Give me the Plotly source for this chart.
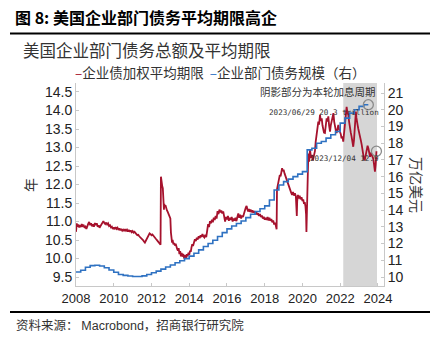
import plotly.graph_objects as go

# ---- data -------------------------------------------------------------
# corporate bond weighted average maturity (years, left axis)
red_t = [2008.00, 2008.04, 2008.08, 2008.13, 2008.17, 2008.21, 2008.26, 2008.30, 2008.35, 2008.40,
         2008.45, 2008.50, 2008.55, 2008.60, 2008.65, 2008.70, 2008.75, 2008.80, 2008.85, 2008.90,
         2008.95, 2009.00, 2009.05, 2009.10, 2009.15, 2009.20, 2009.25, 2009.30, 2009.35, 2009.40,
         2009.45, 2009.50, 2009.55, 2009.60, 2009.65, 2009.70, 2009.75, 2009.80, 2009.85, 2009.90,
         2009.95, 2010.00, 2010.05, 2010.10, 2010.15, 2010.20, 2010.25, 2010.30, 2010.35, 2010.40,
         2010.45, 2010.50, 2010.55, 2010.60, 2010.65, 2010.70, 2010.75, 2010.80, 2010.85, 2010.90,
         2010.95, 2011.00, 2011.05, 2011.10, 2011.15, 2011.20, 2011.25, 2011.30, 2011.35, 2011.40,
         2011.45, 2011.50, 2011.55, 2011.60, 2011.65, 2011.70, 2011.75, 2011.80, 2011.85, 2011.90,
         2011.95, 2012.00, 2012.05, 2012.10, 2012.15, 2012.20, 2012.25, 2012.30, 2012.35, 2012.40,
         2012.45, 2012.48, 2012.50, 2012.52, 2012.54, 2012.57, 2012.60, 2012.62, 2012.64, 2012.66,
         2012.68, 2012.70, 2012.74, 2012.78, 2012.82, 2012.86, 2012.90, 2012.94, 2012.98, 2013.00,
         2013.03, 2013.06, 2013.09, 2013.12, 2013.16, 2013.20, 2013.24, 2013.28, 2013.32, 2013.36,
         2013.40, 2013.44, 2013.48, 2013.52, 2013.56, 2013.60, 2013.64, 2013.68, 2013.72, 2013.76,
         2013.80, 2013.84, 2013.88, 2013.92, 2013.96, 2014.00, 2014.04, 2014.08, 2014.12, 2014.16,
         2014.20, 2014.25, 2014.30, 2014.35, 2014.40, 2014.45, 2014.50, 2014.55, 2014.60, 2014.65,
         2014.70, 2014.75, 2014.80, 2014.85, 2014.90, 2014.95, 2015.00, 2015.05, 2015.10, 2015.15,
         2015.20, 2015.25, 2015.30, 2015.35, 2015.40, 2015.45, 2015.50, 2015.55, 2015.60, 2015.65,
         2015.70, 2015.75, 2015.80, 2015.85, 2015.90, 2015.95, 2016.00, 2016.05, 2016.10, 2016.15,
         2016.20, 2016.25, 2016.30, 2016.35, 2016.40, 2016.45, 2016.50, 2016.55, 2016.60, 2016.65,
         2016.70, 2016.75, 2016.80, 2016.85, 2016.90, 2016.95, 2017.00, 2017.04, 2017.08, 2017.12,
         2017.16, 2017.20, 2017.25, 2017.30, 2017.35, 2017.40, 2017.45, 2017.50, 2017.55, 2017.60,
         2017.65, 2017.70, 2017.75, 2017.80, 2017.85, 2017.90, 2017.95, 2018.00, 2018.05, 2018.10,
         2018.15, 2018.20, 2018.25, 2018.30, 2018.35, 2018.40, 2018.45, 2018.50, 2018.55, 2018.60,
         2018.63, 2018.65, 2018.68, 2018.72, 2018.76, 2018.80, 2018.84, 2018.88, 2018.92, 2018.96,
         2019.00, 2019.05, 2019.10, 2019.15, 2019.20, 2019.25, 2019.30, 2019.35, 2019.40, 2019.45,
         2019.50, 2019.55, 2019.60, 2019.65, 2019.68, 2019.70, 2019.72, 2019.76, 2019.80, 2019.85,
         2019.90, 2019.95, 2020.00, 2020.04, 2020.08, 2020.12, 2020.16, 2020.19, 2020.21, 2020.23,
         2020.25, 2020.28, 2020.31, 2020.35, 2020.40, 2020.45, 2020.50, 2020.55, 2020.60, 2020.66,
         2020.70, 2020.75, 2020.80, 2020.84, 2020.88, 2020.93, 2020.97, 2021.02, 2021.06, 2021.10,
         2021.14, 2021.19, 2021.23, 2021.28, 2021.32, 2021.37, 2021.41, 2021.46, 2021.50, 2021.55,
         2021.60, 2021.64, 2021.68, 2021.72, 2021.77, 2021.81, 2021.86, 2021.90, 2021.94, 2021.99,
         2022.03, 2022.07, 2022.12, 2022.16, 2022.20, 2022.25, 2022.30, 2022.34, 2022.38, 2022.43,
         2022.47, 2022.51, 2022.56, 2022.60, 2022.64, 2022.69, 2022.73, 2022.78, 2022.81, 2022.83,
         2022.86, 2022.89, 2022.92, 2022.96, 2023.00, 2023.05, 2023.09, 2023.14, 2023.18, 2023.22,
         2023.26, 2023.30, 2023.35, 2023.40, 2023.45, 2023.49, 2023.53, 2023.58, 2023.62, 2023.66,
         2023.70, 2023.75, 2023.79, 2023.84, 2023.88, 2023.92]
red_v = [10.72, 10.95, 10.86, 10.92, 10.84, 10.90, 10.85, 10.93, 10.88, 10.91,
         10.83, 10.86, 10.80, 10.90, 10.94, 10.99, 10.90, 10.95, 10.87, 10.92,
         10.86, 10.96, 10.90, 10.95, 10.86, 10.90, 10.83, 10.88, 10.93, 10.97,
         11.01, 10.96, 10.93, 10.97, 10.92, 10.95, 10.88, 10.90, 10.84, 10.86,
         10.80, 10.84, 10.79, 10.85, 10.80, 10.83, 10.77, 10.81, 10.76, 10.80,
         10.75, 10.78, 10.74, 10.79, 10.75, 10.78, 10.73, 10.77, 10.72, 10.76,
         10.71, 10.74, 10.70, 10.72, 10.67, 10.66, 10.63, 10.64, 10.60, 10.58,
         10.56, 10.54, 10.50, 10.46, 10.43, 10.48, 10.53, 10.58, 10.62, 10.68,
         10.66, 10.63, 10.65, 10.61, 10.58, 10.56, 10.52, 10.49, 10.46, 10.42,
         10.39, 10.37, 12.21, 12.05, 12.15, 11.95, 11.90, 11.75, 11.55, 11.32,
         11.48, 11.40, 11.44, 11.33, 11.30, 11.26, 11.22, 11.18, 11.12, 11.08,
         10.70, 10.48, 10.43, 10.50, 10.38, 10.42, 10.35, 10.40, 10.30, 10.26,
         10.21, 10.28, 10.12, 10.20, 10.06, 10.15, 10.05, 10.12, 10.03, 9.99,
         10.10, 10.02, 10.12, 10.06, 10.16, 10.10, 10.21, 10.18, 10.30, 10.39,
         10.34, 10.45, 10.52, 10.47, 10.56, 10.51, 10.60, 10.55, 10.63, 10.58,
         10.66, 10.60, 10.57, 10.64, 10.58, 10.75, 10.93, 10.85, 11.01, 10.95,
         11.05, 10.98, 11.10, 11.04, 11.15, 11.08, 11.28, 11.20, 11.32, 11.25,
         11.30, 11.22, 11.27, 11.14, 11.00, 11.12, 11.06, 11.15, 11.02, 11.10,
         11.04, 11.12, 11.00, 11.08, 11.02, 11.10, 11.01, 11.12, 11.22, 11.10,
         11.18, 11.08, 11.16, 11.12, 11.25, 11.30, 11.38, 11.42, 11.33, 11.27,
         11.34, 11.26, 11.32, 11.25, 11.30, 11.24, 11.28, 11.22, 11.27, 11.18,
         11.22, 11.15, 11.20, 11.12, 11.16, 11.08, 11.13, 11.05, 11.10, 11.04,
         11.12, 11.03, 11.10, 11.02, 11.07, 10.98, 11.03, 10.92, 10.97, 10.85,
         10.79, 11.87, 11.95, 12.08, 12.15, 12.26, 12.22, 12.40, 12.44, 12.36,
         12.40, 12.30, 12.22, 12.12, 12.05, 11.98, 11.90, 11.84, 11.78, 11.72,
         11.80, 11.70, 11.76, 11.68, 11.40, 11.15, 11.55, 11.72, 11.62, 11.70,
         11.60, 11.66, 11.55, 11.60, 11.48, 11.52, 11.40, 11.20, 10.72, 11.10,
         12.00, 12.40, 12.84, 12.62, 12.95, 12.72, 12.80, 12.65, 12.74, 12.90,
         13.15, 13.34, 13.55, 13.70, 13.62, 13.88, 13.72, 13.79, 13.60, 13.52,
         13.40, 13.39, 13.60, 13.79, 13.70, 13.84, 13.60, 13.43, 13.60, 13.75,
         13.88, 13.93, 13.70, 13.52, 13.45, 13.39, 13.52, 13.61, 13.50, 13.43,
         13.36, 13.25, 13.30, 13.16, 13.40, 13.70, 13.95, 14.10, 13.95, 13.88,
         13.70, 13.52, 13.40, 13.30, 13.15, 13.02, 13.20, 13.52, 13.85, 13.97,
         13.80, 13.65, 13.61, 13.50, 13.42, 13.34, 13.20, 13.07, 12.90, 12.75,
         12.68, 12.66, 12.78, 12.89, 13.05, 12.98, 12.85, 12.75, 12.86, 12.80,
         12.74, 12.70, 12.55, 12.35, 12.55, 12.90]

# corporate sector debt outstanding (trillion USD, right axis), quarterly
blue_t = [2008.00, 2008.25, 2008.50, 2008.75, 2009.00, 2009.25, 2009.50, 2009.75,
          2010.00, 2010.25, 2010.50, 2010.75, 2011.00, 2011.25, 2011.50, 2011.75,
          2012.00, 2012.25, 2012.50, 2012.75, 2013.00, 2013.25, 2013.50, 2013.75,
          2014.00, 2014.25, 2014.50, 2014.75, 2015.00, 2015.25, 2015.50, 2015.75,
          2016.00, 2016.25, 2016.50, 2016.75, 2017.00, 2017.25, 2017.50, 2017.75,
          2018.00, 2018.25, 2018.50, 2018.75, 2019.00, 2019.25, 2019.50, 2019.75,
          2020.00, 2020.25, 2020.50, 2020.75, 2021.00, 2021.25, 2021.50, 2021.75,
          2022.00, 2022.25, 2022.50, 2022.75, 2023.00, 2023.25, 2023.49]
blue_v = [10.30, 10.40, 10.58, 10.68, 10.70, 10.66, 10.55, 10.42,
          10.28, 10.15, 10.10, 10.06, 10.03, 10.03, 10.07, 10.15,
          10.25, 10.35, 10.47, 10.60, 10.72, 10.85, 10.97, 11.10,
          11.25, 11.42, 11.62, 11.82, 12.00, 12.20, 12.42, 12.65,
          12.88, 13.05, 13.20, 13.35, 13.55, 13.75, 13.92, 14.08,
          14.25, 14.60, 15.20, 15.50, 15.70, 15.85, 16.00, 16.15,
          16.30, 17.60, 17.70, 18.00, 18.10, 18.30, 18.50, 18.70,
          19.20, 19.50, 19.80, 20.00, 20.20, 20.30, 20.30]

# latest-value callouts
blue_last_t, blue_last_v = 2023.49, 20.3
red_last_t, red_last_v = 2023.92, 12.9

# current hiking cycle
hike_start, hike_end = 2022.16, 2023.95

x_ticks = list(range(2008, 2025, 2))
left_ticks = [9.5, 10.0, 10.5, 11.0, 11.5, 12.0, 12.5, 13.0, 13.5, 14.0, 14.5]
right_ticks = list(range(10, 22))

RED = "#a6122d"
BLUE = "#2f72c2"
CJK = "Noto Sans CJK SC"
NUM = "Liberation Sans"
MONO = "DejaVu Sans Mono"

# plot area in pixels (436 x 345 page)
W, H = 436, 345
L, R, T, B = 76, 384, 83, 286


def fx(p):
    return (p - L) / (R - L)


def fy(p):
    return (B - p) / (B - T)


fig = go.Figure()

fig.add_trace(go.Scatter(x=blue_t, y=blue_v, yaxis="y2", mode="lines",
                         line=dict(color=BLUE, width=1.6, shape="hv"),
                         name="企业部门债务规模（右）"))
fig.add_trace(go.Scatter(x=red_t, y=red_v, mode="lines",
                         line=dict(color=RED, width=1.8),
                         name="企业债加权平均期限"))
fig.add_trace(go.Scatter(x=[blue_last_t], y=[blue_last_v], yaxis="y2", mode="markers",
                         marker=dict(symbol="circle-open", size=10, color="#8a8a8a",
                                     line=dict(width=1.3, color="#8a8a8a"))))
fig.add_trace(go.Scatter(x=[red_last_t], y=[red_last_v], mode="markers",
                         marker=dict(symbol="circle-open", size=10, color="#8a8a8a",
                                     line=dict(width=1.3, color="#8a8a8a"))))

axis_common = dict(showline=True, linecolor="#c8c8c8", linewidth=1, showgrid=False,
                   zeroline=False, ticks="inside", ticklen=3, tickcolor="#c8c8c8",
                   tickfont=dict(family=NUM, size=14, color="#222"))

fig.update_layout(
    width=W, height=H,
    margin=dict(l=L, r=W - R, t=T, b=H - B, pad=0),
    paper_bgcolor="white", plot_bgcolor="white",
    showlegend=False,
    xaxis=dict(axis_common, range=[2008, 2024.32], tickvals=x_ticks,
               ticktext=[str(v) for v in x_ticks],
               tickfont=dict(family=NUM, size=13, color="#222")),
    yaxis=dict(axis_common, range=[9.257, 14.743], tickvals=left_ticks,
               ticktext=[f"{v:.1f}" for v in left_ticks]),
    yaxis2=dict(axis_common, range=[9.462, 21.598], tickvals=right_ticks,
                overlaying="y", side="right"),
)

# shaded hiking cycle
fig.add_shape(type="rect", xref="x", yref="paper", x0=hike_start, x1=hike_end,
              y0=0, y1=1, fillcolor="#d6d6d6", line=dict(width=0), layer="below")

# rules under the heading and above the source line
for yy in (33.5, 312):
    fig.add_shape(type="line", xref="paper", yref="paper", x0=fx(10), x1=fx(430),
                  y0=fy(yy), y1=fy(yy), line=dict(color="black", width=2.2))

ann = []
ann.append(dict(text="<b>图 8: 美国企业部门债务平均期限高企</b>", x=fx(13), y=fy(17),
                xanchor="left", yanchor="middle", font=dict(family=CJK, size=16, color="#000")))
ann.append(dict(text="美国企业部门债务总额及平均期限", x=fx(21), y=fy(50),
                xanchor="left", yanchor="middle", font=dict(family=CJK, size=16.5, color="#333")))
ann.append(dict(text=f"<span style='color:{RED}'>–</span>企业债加权平均期限  "
                     f"<span style='color:{BLUE}'>–</span>企业部门债务规模（右）",
                x=fx(73), y=fy(72), xanchor="left", yanchor="middle",
                font=dict(family=CJK, size=13.5, color="#333")))
ann.append(dict(text="年", x=fx(30), y=fy(185), textangle=-90,
                xanchor="center", yanchor="middle", font=dict(family=CJK, size=14, color="#333")))
ann.append(dict(text="万亿美元", x=fx(417), y=fy(185), textangle=90,
                xanchor="center", yanchor="middle", font=dict(family=CJK, size=14, color="#333")))
ann.append(dict(text="阴影部分为本轮加息周期", x=fx(378), y=fy(92),
                xanchor="right", yanchor="middle", font=dict(family=CJK, size=10.5, color="#333")))
ann.append(dict(text=f"2023/06/29 {blue_last_v} trillion", x=fx(381), y=fy(112),
                xanchor="right", yanchor="middle", font=dict(family=MONO, size=7.6, color="#333")))
ann.append(dict(text=f"2023/12/04 {red_last_v}", x=fx(381), y=fy(158),
                xanchor="right", yanchor="middle", font=dict(family=MONO, size=7.6, color="#333")))
ann.append(dict(text="资料来源： <span style='font-family:Liberation Sans'>Macrobond</span>，招商银行研究院",
                x=fx(14), y=fy(324), xanchor="left", yanchor="middle",
                font=dict(family=CJK, size=12.5, color="#333")))

for a in ann:
    a.update(xref="paper", yref="paper", showarrow=False)
fig.update_layout(annotations=ann)

fig.write_html("out.html")
